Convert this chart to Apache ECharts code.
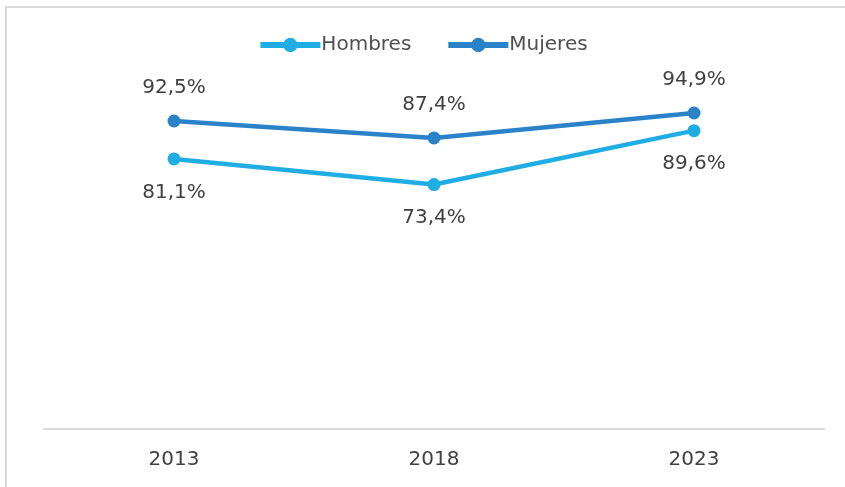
<!DOCTYPE html>
<html>
<head>
<meta charset="utf-8">
<script src="https://cdn.jsdelivr.net/npm/echarts@6/dist/echarts.min.js"></script>
<style>
  html, body { margin: 0; padding: 0; background: #fff; }
  #frame { position: absolute; left: 5px; top: 6px; width: 860px; height: 500px; border: 2px solid #d9d9d9; }
  #main { position: absolute; left: 0; top: 0; width: 845px; height: 487px; }
</style>
</head>
<body>
<div id="frame"></div>
<div id="main"></div>
<script>
  // datos
  var years = ['2013', '2018', '2023'];
  var hombres = [81.1, 73.4, 89.6];
  var mujeres = [92.5, 87.4, 94.9];

  var fmt = function (p) {
    return p.value.toFixed(1).replace('.', ',') + '%';
  };

  var chart = echarts.init(document.getElementById('main'));
  chart.setOption({
    animation: false,
    textStyle: { fontFamily: 'DejaVu Sans', color: '#404040' },
    legend: {
      top: 30,
      left: 'center',
      itemWidth: 60,
      itemHeight: 18,
      itemGap: 34,
      lineStyle: { width: 6 },
      textStyle: { fontSize: 20, color: '#505050', padding: [0, 0, 0, -4] },
      data: ['Hombres', 'Mujeres']
    },
    grid: { left: 44, right: 21, top: 96, bottom: 58 },
    xAxis: {
      type: 'category',
      data: years,
      boundaryGap: true,
      axisLine: { lineStyle: { color: '#d9d9d9', width: 2 } },
      axisTick: { show: false },
      axisLabel: { fontSize: 20, color: '#404040', margin: 21 }
    },
    yAxis: {
      type: 'value',
      min: 0,
      max: 100,
      show: false
    },
    series: [
      {
        name: 'Hombres',
        type: 'line',
        data: hombres,
        symbol: 'circle',
        symbolSize: 13,
        color: '#1fade4',
        lineStyle: { width: 4.5, color: '#1fade4' },
        label: { show: true, position: 'bottom', distance: 17, fontSize: 20, color: '#404040', formatter: fmt }
      },
      {
        name: 'Mujeres',
        type: 'line',
        data: mujeres,
        symbol: 'circle',
        symbolSize: 13,
        color: '#2a83c8',
        lineStyle: { width: 4.5, color: '#2a83c8' },
        label: { show: true, position: 'top', distance: 17, fontSize: 20, color: '#404040', formatter: fmt }
      }
    ]
  });
</script>
</body>
</html>
